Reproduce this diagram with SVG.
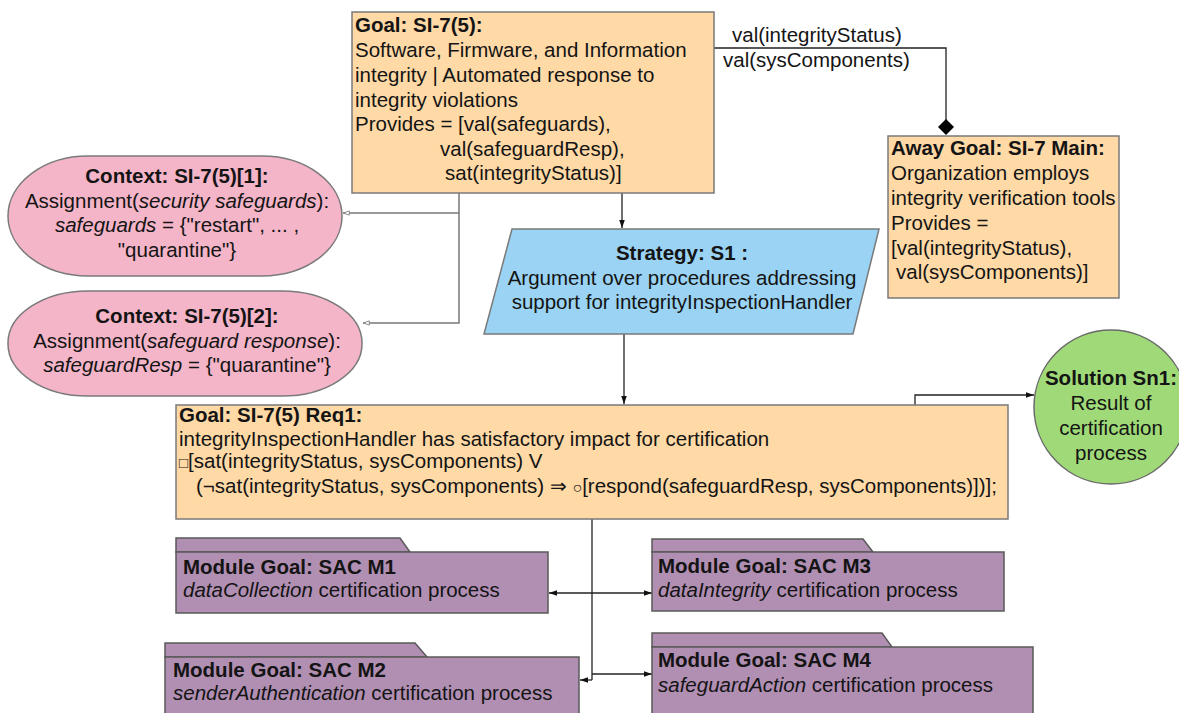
<svg xmlns="http://www.w3.org/2000/svg" width="1179" height="713" viewBox="0 0 1179 713">
  <style>
    text { font-family: "Liberation Sans", Arial, sans-serif; font-size: 20.5px; fill: #141414; }
    .b { font-weight: bold; }
    .i { font-style: italic; }
    .c { text-anchor: middle; }
    .goal { fill: #FFD9A6; stroke: #7a7a7a; stroke-width: 1.5; }
    .ctx { fill: #F4B5C8; stroke: #7a7a7a; stroke-width: 1.5; }
    .strat { fill: #9AD3F3; stroke: #7a7a7a; stroke-width: 1.5; }
    .sol { fill: #A0DA78; stroke: #6a6a6a; stroke-width: 1.5; }
    .mod { fill: #B18FB3; stroke: #5a5a5a; stroke-width: 1.5; }
    .edge { fill: none; stroke: #222; stroke-width: 1.3; }
    .edge-ctx { fill: none; stroke: #777; stroke-width: 1.5; }
  </style>
  <defs>
    <marker id="arrow" viewBox="0 0 10 10" refX="10" refY="5" markerWidth="8" markerHeight="8" markerUnits="userSpaceOnUse" orient="auto-start-reverse">
      <path d="M0,1.5 L10,5 L0,8.5 Z" fill="#111"/>
    </marker>
    <marker id="hollow" viewBox="0 0 10 10" refX="10" refY="5" markerWidth="7" markerHeight="7" markerUnits="userSpaceOnUse" orient="auto">
      <path d="M1,2 L9.5,5 L1,8 Z" fill="#fff" stroke="#777" stroke-width="1.2"/>
    </marker>
    <marker id="diamond" viewBox="0 0 16 16" refX="8" refY="8" markerWidth="16" markerHeight="16" markerUnits="userSpaceOnUse" orient="auto">
      <path d="M0,8 L8,0 L16,8 L8,16 Z" fill="#000"/>
    </marker>
  </defs>

  <!-- connectors -->
  <g id="connectors">
    <path class="edge-ctx" d="M459,193 V323 H363" marker-end="url(#hollow)"/>
    <path class="edge-ctx" d="M459,213 H343" marker-end="url(#hollow)"/>
    <path class="edge" d="M622,193 V228" marker-end="url(#arrow)"/>
    <path class="edge" d="M624,334 V404" marker-end="url(#arrow)"/>
    <path class="edge" d="M714,48 H946 V127" marker-end="url(#diamond)"/>
    <path class="edge" d="M915,405 V395 H1034" marker-end="url(#arrow)"/>
    <path class="edge" d="M592,519 V680"/>
    <path class="edge" d="M549,593 H652" marker-start="url(#arrow)" marker-end="url(#arrow)"/>
    <path class="edge" d="M592,680 H580" marker-end="url(#arrow)"/>
    <path class="edge" d="M592,674 H652" marker-end="url(#arrow)"/>
    <text x="732" y="42">val(integrityStatus)</text>
    <text x="723" y="67">val(sysComponents)</text>
  </g>

  <!-- Goal: SI-7(5) -->
  <g id="goal-si75">
    <rect class="goal" x="352" y="12" width="362" height="181"/>
    <text x="355" y="32" class="b">Goal: SI-7(5):</text>
    <text x="355" y="57">Software, Firmware, and Information</text>
    <text x="355" y="82">integrity | Automated response to</text>
    <text x="355" y="107">integrity violations</text>
    <text x="355" y="131">Provides = [val(safeguards),</text>
    <text x="440" y="156">val(safeguardResp),</text>
    <text x="445" y="180">sat(integrityStatus)]</text>
  </g>

  <!-- Away Goal: SI-7 Main -->
  <g id="away-goal-si7">
    <rect class="goal" x="888" y="136" width="231" height="162"/>
    <text x="891" y="155" class="b">Away Goal: SI-7 Main:</text>
    <text x="891" y="180">Organization employs</text>
    <text x="891" y="205">integrity verification tools</text>
    <text x="891" y="230">Provides =</text>
    <text x="891" y="255">[val(integrityStatus),</text>
    <text x="896" y="279">val(sysComponents)]</text>
  </g>

  <!-- Context 1 -->
  <g id="context-1">
    <rect class="ctx" x="8" y="156" width="334" height="120" rx="80" ry="60"/>
    <text x="177" y="183" class="c b">Context: SI-7(5)[1]:</text>
    <text x="177" y="208" class="c">Assignment(<tspan class="i">security safeguards</tspan>):</text>
    <text x="177" y="232" class="c"><tspan class="i">safeguards</tspan> = {"restart", ... ,</text>
    <text x="177" y="257" class="c">"quarantine"}</text>
  </g>

  <!-- Context 2 -->
  <g id="context-2">
    <rect class="ctx" x="8" y="291" width="354" height="105" rx="80" ry="52"/>
    <text x="187" y="323" class="c b">Context: SI-7(5)[2]:</text>
    <text x="187" y="348" class="c">Assignment(<tspan class="i">safeguard response</tspan>):</text>
    <text x="187" y="372" class="c"><tspan class="i">safeguardResp</tspan> = {"quarantine"}</text>
  </g>

  <!-- Strategy S1 -->
  <g id="strategy-s1">
    <polygon class="strat" points="512,229 879,229 853,334 484,334"/>
    <text x="682" y="260" class="c b">Strategy: S1 :</text>
    <text x="682" y="285" class="c">Argument over procedures addressing</text>
    <text x="682" y="309" class="c">support for integrityInspectionHandler</text>
  </g>

  <!-- Goal: SI-7(5) Req1 -->
  <g id="goal-req1">
    <rect class="goal" x="176" y="405" width="832" height="114"/>
    <text x="179" y="422" class="b">Goal: SI-7(5) Req1:</text>
    <text x="179" y="446">integrityInspectionHandler has satisfactory impact for certification</text>
    <text x="179" y="468"><tspan style="font-size:15px">□</tspan>[sat(integrityStatus, sysComponents) V</text>
    <text x="196" y="493">(¬sat(integrityStatus, sysComponents) <tspan style="font-size:20px">⇒</tspan> <tspan style="font-size:16px">○</tspan>[respond(safeguardResp, sysComponents)])];</text>
  </g>

  <!-- Solution Sn1 -->
  <g id="solution-sn1">
    <circle class="sol" cx="1111" cy="407" r="77"/>
    <text x="1111" y="385" class="c b">Solution Sn1:</text>
    <text x="1111" y="410" class="c">Result of</text>
    <text x="1111" y="435" class="c">certification</text>
    <text x="1111" y="460" class="c">process</text>
  </g>

  <!-- Module Goal M1 -->
  <g id="module-m1">
    <path class="mod" d="M176,552 V538 H400 L410,552 Z"/>
    <rect class="mod" x="176" y="552" width="372" height="61"/>
    <text x="183" y="574" class="b">Module Goal: SAC M1</text>
    <text x="183" y="597"><tspan class="i">dataCollection</tspan> certification process</text>
  </g>

  <!-- Module Goal M2 -->
  <g id="module-m2">
    <path class="mod" d="M165,657 V643 H415 L427,657 Z"/>
    <rect class="mod" x="165" y="657" width="414" height="70"/>
    <text x="173" y="677" class="b">Module Goal: SAC M2</text>
    <text x="173" y="700"><tspan class="i">senderAuthentication</tspan> certification process</text>
  </g>

  <!-- Module Goal M3 -->
  <g id="module-m3">
    <path class="mod" d="M652,552 V539 H863 L873,552 Z"/>
    <rect class="mod" x="652" y="552" width="352" height="59"/>
    <text x="658" y="573" class="b">Module Goal: SAC M3</text>
    <text x="658" y="597"><tspan class="i">dataIntegrity</tspan> certification process</text>
  </g>

  <!-- Module Goal M4 -->
  <g id="module-m4">
    <path class="mod" d="M652,647 V633 H882 L892,647 Z"/>
    <rect class="mod" x="652" y="647" width="381" height="80"/>
    <text x="658" y="667" class="b">Module Goal: SAC M4</text>
    <text x="658" y="692"><tspan class="i">safeguardAction</tspan> certification process</text>
  </g>
</svg>
